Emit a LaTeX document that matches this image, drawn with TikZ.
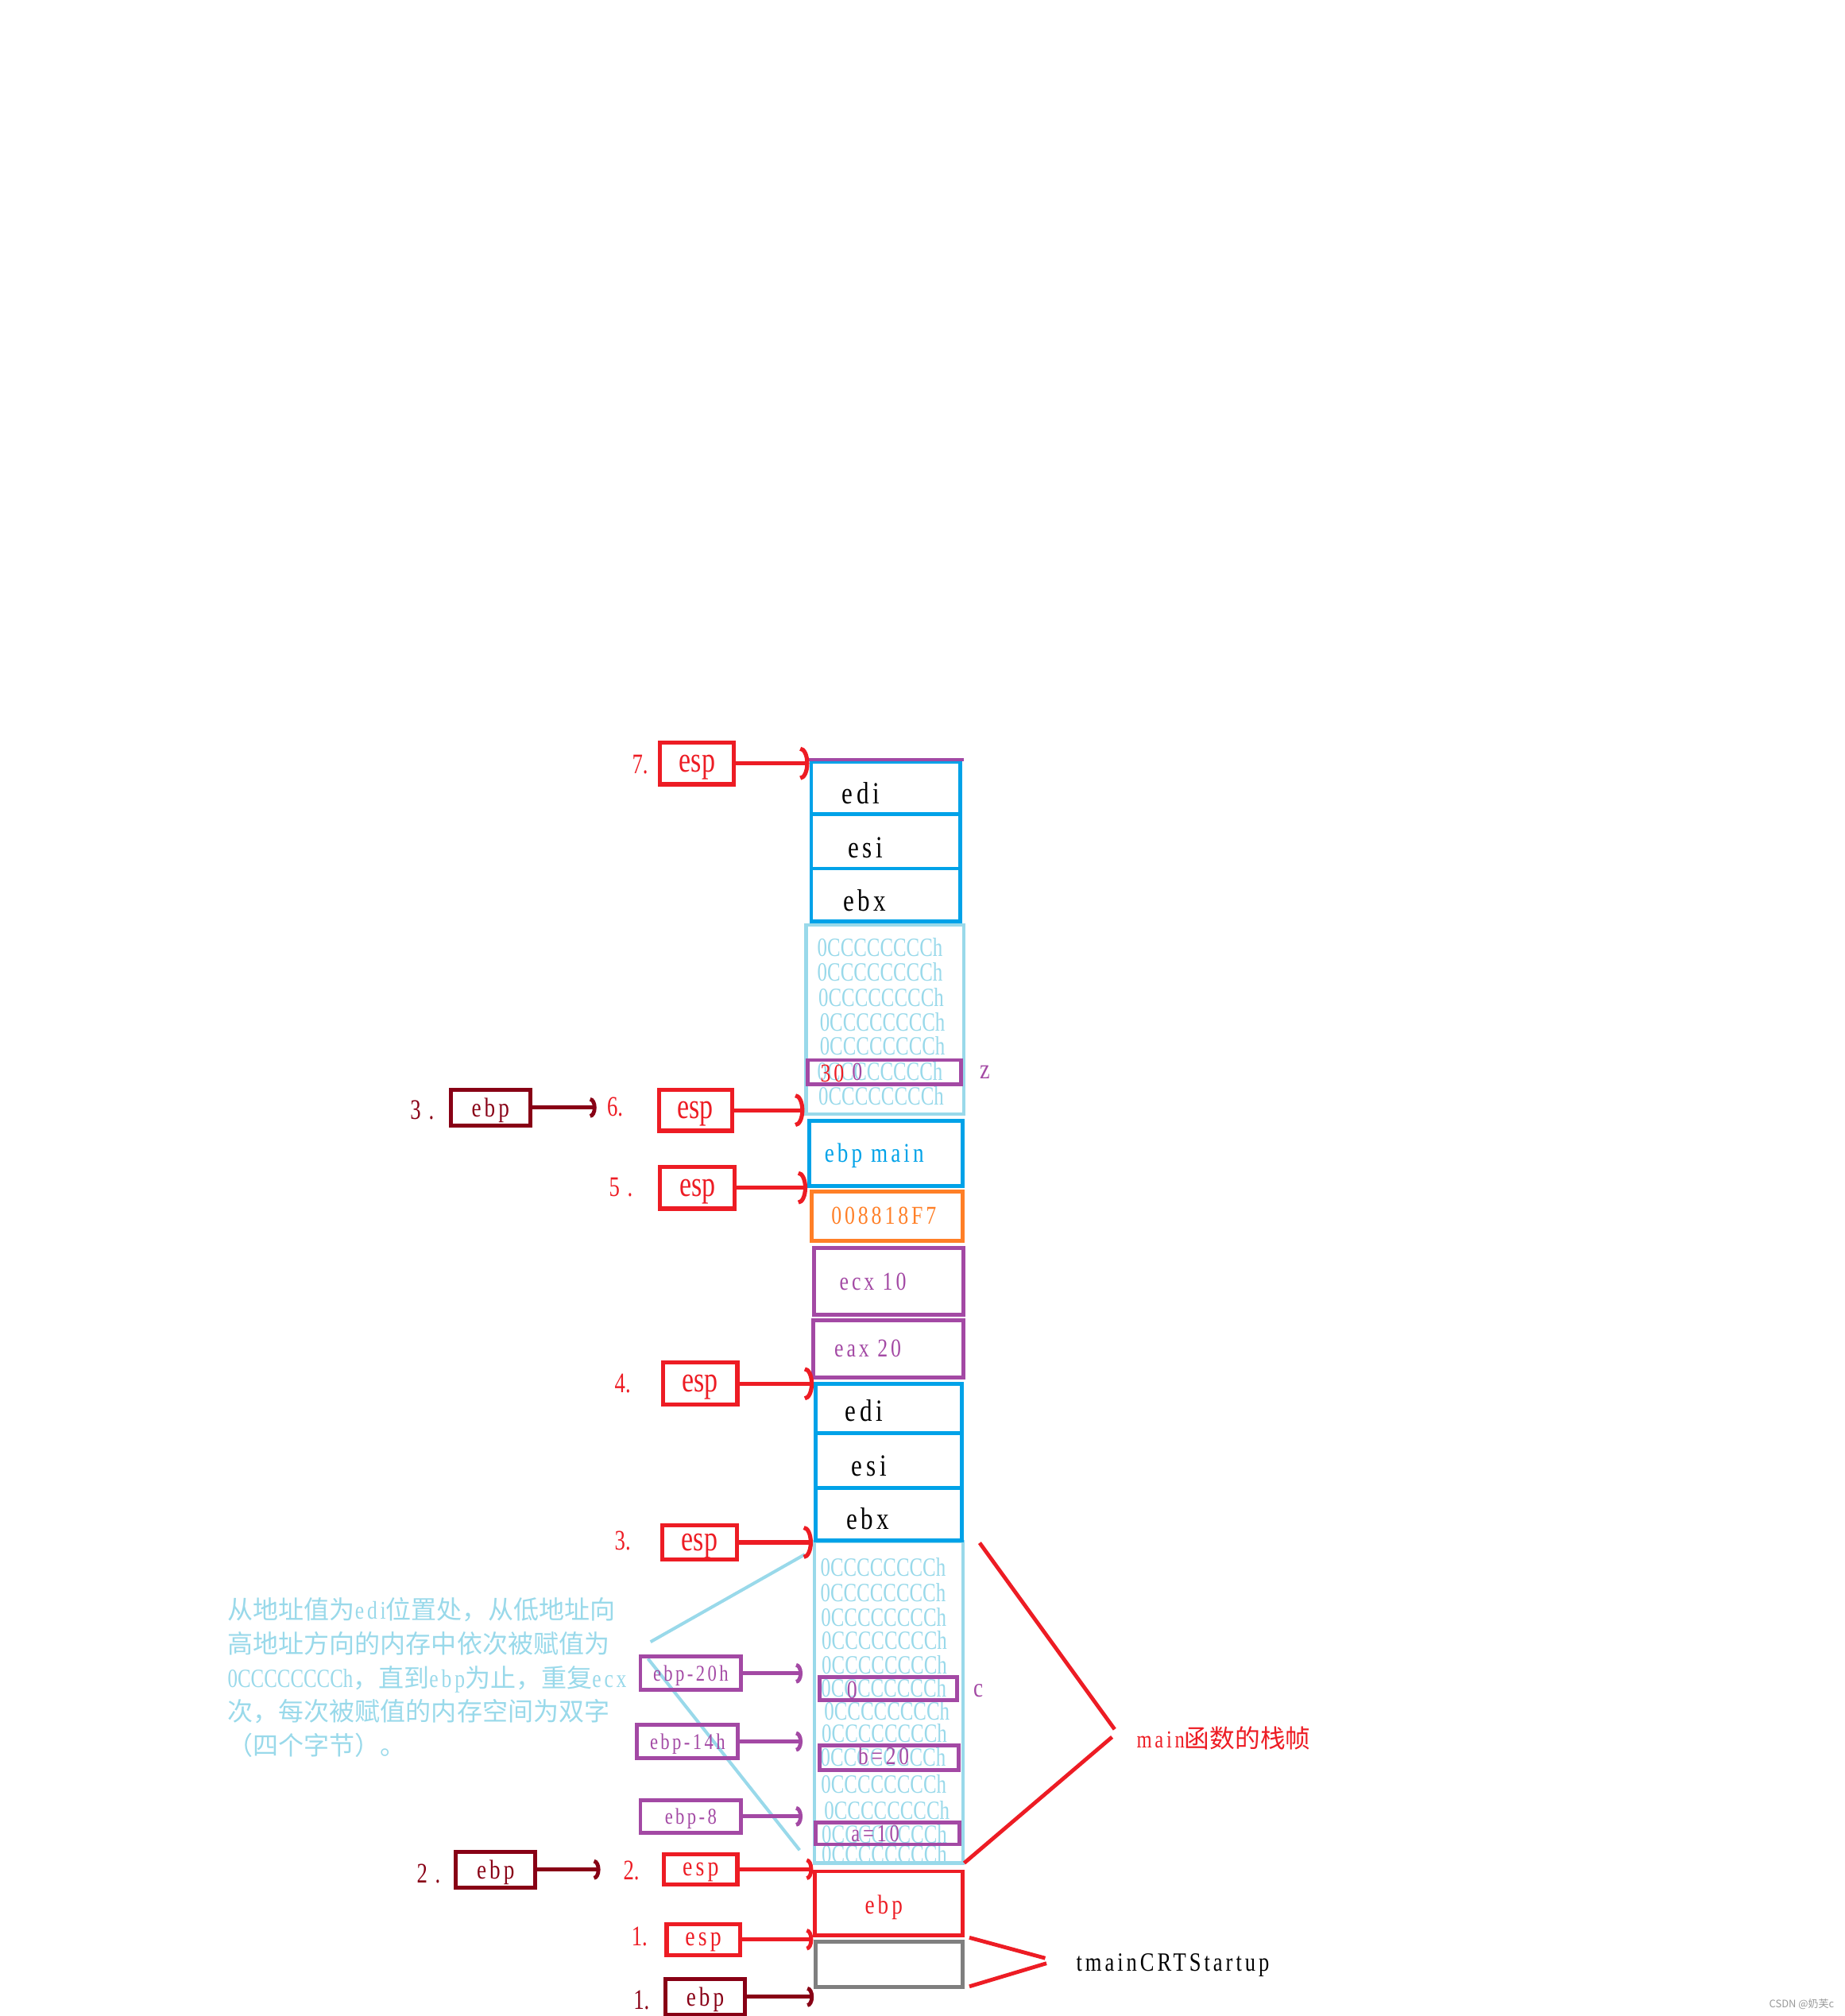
\documentclass[tikz,border=0pt]{standalone}
\usepackage{fontspec}
\usetikzlibrary{arrows.meta}
\setmainfont{Liberation Serif}
\newfontfamily\pf[FakeStretch=0.75]{Liberation Serif}
\newfontfamily\pfs[FakeStretch=0.8,LetterSpace=12]{Liberation Serif}
\newfontfamily\cjk{Noto Sans CJK SC}
\newcommand{\fsz}[1]{\fontsize{#1}{#1}\selectfont}

\definecolor{pred}{HTML}{ED1C24}
\definecolor{pdred}{HTML}{880015}
\definecolor{pblue}{HTML}{00A2E8}
\definecolor{plblue}{HTML}{99D9EA}
\definecolor{ppurple}{HTML}{A349A4}
\definecolor{porange}{HTML}{FF7F27}
\definecolor{pgray}{HTML}{7F7F7F}
\definecolor{wmgray}{HTML}{999999}

\tikzset{
  cell/.style={draw, line width=3pt, inner sep=0pt},
  espbox/.style={draw=pred, text=pred, line width=3.2pt, inner sep=0pt, text depth=0pt, font=\pf\fsz{28}},
  ebpbox/.style={draw=pdred, text=pdred, line width=3pt, inner sep=0pt, text depth=0pt, font=\pfs\fsz{21}},
  offbox/.style={draw=ppurple, text=ppurple, line width=3pt, inner sep=0pt, text depth=0pt, font=\pfs\fsz{17.5}},
  rowtxt/.style={anchor=west, inner sep=0pt, text=plblue, font=\pf\fsz{20.5}},
  celltxt/.style={anchor=base, inner sep=0pt, font=\pfs\fsz{20}},
  numtxt/.style={anchor=base west, inner sep=0pt, text=pred, font=\pf\fsz{22}},
  note/.style={anchor=base west, inner sep=0pt, text=plblue, font=\cjk\fsz{19.8}},
  espar/.style={pred, line width=3.2pt, -{Arc Barb[width=26pt,length=7pt]}},
  espar2/.style={pred, line width=3pt, -{Arc Barb[width=17pt,length=5pt]}},
  ebpar/.style={pdred, line width=3pt, -{Arc Barb[width=16pt,length=5pt]}},
  offar/.style={ppurple, line width=3pt, shorten >=8pt, -{Arc Barb[width=16pt,length=5pt]}},
  brk/.style={pred, line width=3pt},
  lbline/.style={plblue, line width=2.5pt}
}

\begin{document}
\begin{tikzpicture}[x=1pt,y=-1pt]
  \useasboundingbox (0,0) rectangle (1435,1568);
  %\draw (0,0) grid[step=100] (1435,1568);

  % upper part of the stack
  \node[cell, draw=plblue, line width=2.7pt, minimum width=122.7pt, minimum height=147pt] (fill7) at (688.4,793) {};
  \node[rowtxt] at (635.6,736.5) {0CCCCCCCCh};
  \node[rowtxt] at (635.6,756) {0CCCCCCCCh};
  \node[rowtxt] at (636.5,776) {0CCCCCCCCh};
  \node[rowtxt] at (637.5,794.8) {0CCCCCCCCh};
  \node[rowtxt] at (637.5,813.6) {0CCCCCCCCh};
  \node[rowtxt] at (635.6,833.5) {0CCCCCCCCh};
  \node[rowtxt] at (636.5,852.4) {0CCCCCCCCh};
  \node[cell, draw=ppurple, minimum width=119pt, minimum height=19pt] (zbox) at (688,834) {};
  \node[celltxt, anchor=base west, text=pred] at (638,841.3) {30};
  \node[celltxt, anchor=base west, text=ppurple] at (662.6,840) {0};
  \node[celltxt, anchor=base west, text=ppurple, font=\pfs\fsz{22}] (zname) at (762,839) {z};

  \node[cell, draw=pblue, minimum width=116pt, minimum height=40.5pt] (edi7) at (689,612.75) {};
  \node[cell, draw=pblue, minimum width=116pt, minimum height=42.5pt] (esi7) at (689,654.25) {};
  \node[cell, draw=pblue, minimum width=116pt, minimum height=41pt] (ebx7) at (689,696) {};
  \draw[ppurple, line width=2.5pt] (627.6,591) -- (749.8,591);
  \node[celltxt, font=\pfs\fsz{24}] at (669.6,625) {edi};
  \node[celltxt, font=\pfs\fsz{24}] at (673,667) {esi};
  \node[celltxt, font=\pfs\fsz{24}] at (672.6,708.6) {ebx};

  \node[cell, draw=pblue, minimum width=119pt, minimum height=51pt] (mainebp) at (689,897) {};
  \node[celltxt, text=pblue, font=\pfs\fsz{21}] at (680,904) {ebp main};
  \node[cell, draw=porange, minimum width=117pt, minimum height=38.5pt] (ret) at (690,945.75) {};
  \node[celltxt, text=porange] at (687.5,952) {008818F7};
  \node[cell, draw=ppurple, minimum width=116pt, minimum height=51.7pt] (ecx) at (691.4,996.6) {};
  \node[celltxt, text=ppurple] at (679,1003.5) {ecx 10};
  \node[cell, draw=ppurple, minimum width=117pt, minimum height=44.4pt] (eax) at (691,1049) {};
  \node[celltxt, text=ppurple] at (675,1055.5) {eax 20};

  % lower part of the stack
  \node[cell, draw=plblue, line width=2.7pt, minimum width=115.6pt, minimum height=250pt] (fill2) at (691.4,1324) {};
  \node[rowtxt] at (638,1218.6) {0CCCCCCCCh};
  \node[rowtxt] at (638,1238.6) {0CCCCCCCCh};
  \node[rowtxt] at (638.5,1257.6) {0CCCCCCCCh};
  \node[rowtxt] at (639,1276) {0CCCCCCCCh};
  \node[rowtxt] at (639,1294.7) {0CCCCCCCCh};
  \node[rowtxt] at (638.5,1313) {0CCCCCCCCh};
  \node[rowtxt] at (641,1330.5) {0CCCCCCCCh};
  \node[rowtxt] at (639,1348) {0CCCCCCCCh};
  \node[rowtxt] at (638,1366.5) {0CCCCCCCCh};
  \node[rowtxt] at (638.5,1387.6) {0CCCCCCCCh};
  \node[rowtxt] at (641,1407.7) {0CCCCCCCCh};
  \node[rowtxt] at (639,1426.5) {0CCCCCCCCh};
  \node[rowtxt] at (639,1442) {0CCCCCCCCh};

  \node[cell, draw=pblue, minimum width=113.8pt, minimum height=38.7pt] (edi4) at (691.4,1095.6) {};
  \node[cell, draw=pblue, minimum width=113.8pt, minimum height=42.2pt] (esi4) at (691.4,1136) {};
  \node[cell, draw=pblue, minimum width=113.8pt, minimum height=40.8pt] (ebx4) at (691.4,1177.6) {};
  \node[celltxt, font=\pfs\fsz{24}] at (672,1105.5) {edi};
  \node[celltxt, font=\pfs\fsz{24}] at (676,1148) {esi};
  \node[celltxt, font=\pfs\fsz{24}] at (675,1189.6) {ebx};

  \node[cell, draw=pred, minimum width=115pt, minimum height=50pt] (ebpcell) at (691.5,1480.5) {};
  \node[celltxt, text=pred, font=\pfs\fsz{21}] at (687.4,1488.6) {ebp};
  \node[cell, draw=pgray, minimum width=114.5pt, minimum height=35.5pt] (startup) at (691.75,1527.75) {};

  % note on the filling
  \draw[lbline] (506,1277) -- (626,1209);
  \draw[lbline] (504,1290) -- (622,1439);
  \node[note] (note1) at (177,1259) {从地址值为{\pfs edi}位置处，从低地址向};
  \node[note] (note2) at (177,1286) {高地址方向的内存中依次被赋值为};
  \node[note] (note3) at (177,1312.7) {{\pf\fsz{20.5}0CCCCCCCCh}，直到{\pfs ebp}为止，重复{\pfs ecx}};
  \node[note] (note4) at (177,1338.5) {次，每次被赋值的内存空间为双字};
  \node[note] (note5) at (177,1365) {（四个字节）。};

  % locals
  \node[cell, draw=ppurple, minimum width=107pt, minimum height=18pt] (cbox) at (691,1313.5) {};
  \node[cell, draw=ppurple, minimum width=108pt, minimum height=19pt] (bbox) at (691.5,1367) {};
  \node[cell, draw=ppurple, minimum width=112pt, minimum height=17pt] (abox) at (690.5,1426) {};
  \node[celltxt, anchor=base west, text=ppurple] at (658.5,1321) {0};
  \node[celltxt, anchor=base west, text=ppurple, font=\pfs\fsz{19.6}] at (667.4,1372.6) {b=20};
  \node[celltxt, anchor=base west, text=ppurple, font=\pfs\fsz{19}] at (662,1432.4) {a=10};
  \node[celltxt, anchor=base west, text=ppurple, font=\pfs\fsz{21}] (cname) at (757,1320) {c};

  \node[offbox, minimum width=78.4pt, minimum height=26pt] (off20) at (537.3,1301.5) {ebp-20h};
  \node[offbox, minimum width=78.6pt, minimum height=26pt] (off14) at (534.8,1354.5) {ebp-14h};
  \node[offbox, minimum width=78.4pt, minimum height=25.5pt] (off8) at (537.3,1412.75) {ebp-8};
  \draw[offar] (off20.east) -- (off20.east -| fill2.west);
  \draw[offar] (off14.east) -- (off14.east -| fill2.west);
  \draw[offar] (off8.east) -- (off8.east -| fill2.west);

  % esp and ebp steps
  \node[espbox, minimum width=57.5pt, minimum height=32.5pt] (esp7) at (542.25,593.75) {esp};
  \node[espbox, minimum width=57pt, minimum height=32pt] (esp6) at (541,863.5) {esp};
  \node[espbox, minimum width=58pt, minimum height=32.6pt] (esp5) at (542.5,923.8) {esp};
  \node[espbox, minimum width=57.6pt, minimum height=32.7pt] (esp4) at (544.7,1076.2) {esp};
  \node[espbox, minimum width=57.8pt, minimum height=27pt] (esp3) at (544.1,1199.6) {esp};
  \node[espbox, font=\pfs\fsz{21.5}, minimum width=57pt, minimum height=23.4pt] (esp2) at (545,1453.8) {esp};
  \node[espbox, font=\pfs\fsz{21.5}, minimum width=57pt, minimum height=24pt] (esp1) at (547,1508.5) {esp};
  \node[ebpbox, minimum width=62pt, minimum height=28pt] (ebp3) at (381.5,861.5) {ebp};
  \node[ebpbox, minimum width=62pt, minimum height=28pt] (ebp2) at (385.5,1454.1) {ebp};
  \node[ebpbox, minimum width=62pt, minimum height=28pt] (ebp1) at (548.5,1553.1) {ebp};

  \node[numtxt] (n7) at (491.5,601.6) {7.};
  \node[numtxt] (n6) at (472,868) {6.};
  \node[numtxt, text=pdred] (m3) at (319,870.6) {3\hspace{6pt}.};
  \node[numtxt] (n5) at (473.6,930.5) {5\hspace{6pt}.};
  \node[numtxt] (n4) at (478,1083.4) {4.};
  \node[numtxt] (n3) at (478,1205.6) {3.};
  \node[numtxt, text=pdred] (m2) at (324,1464.7) {2\hspace{6pt}.};
  \node[numtxt] (n2) at (484.7,1462) {2.};
  \node[numtxt] (n1) at (491,1513) {1.};
  \node[numtxt, text=pdred] (m1) at (492.6,1563) {1.};

  \coordinate (ebp3tip) at (464,861.5);
  \coordinate (ebp2tip) at (467,1454.1);
  \draw[espar] (esp7.east) -- (esp7.east -| edi7.west);
  \draw[espar] (esp6.east) -- (esp6.east -| fill7.west);
  \draw[espar] (esp5.east) -- (esp5.east -| mainebp.west);
  \draw[espar] (esp4.east) -- (esp4.east -| edi4.west);
  \draw[espar] (esp3.east) -- (esp3.east -| fill2.west);
  \draw[espar2] (esp2.east) -- (esp2.east -| ebpcell.west);
  \draw[espar2] (esp1.east) -- (esp1.east -| ebpcell.west);
  \draw[ebpar] (ebp3.east) -- (ebp3tip);
  \draw[ebpar] (ebp2.east) -- (ebp2tip);
  \draw[ebpar] (ebp1.east) -- (ebp1.east -| startup.west);

  % frames
  \draw[brk] (762,1200) -- (867,1345);
  \draw[brk] (865,1351) -- (750,1449);
  \node[anchor=base west, inner sep=0pt, text=pred] (mainlbl) at (884,1359.5) {{\pfs\fsz{19}main}{\cjk\fsz{19.6}函数的栈帧}};
  \draw[brk] (754,1507) -- (813,1523);
  \draw[brk] (814,1527) -- (754,1545);
  \node[anchor=base west, inner sep=0pt, font=\pfs\fsz{20.5}] (crtlbl) at (837,1533) {tmainCRTStartup};

  \node[anchor=west, inner sep=0pt, text=wmgray, font=\cjk\fsz{8}] (mark) at (1376,1559) {CSDN @奶芙c};
\end{tikzpicture}
\end{document}
